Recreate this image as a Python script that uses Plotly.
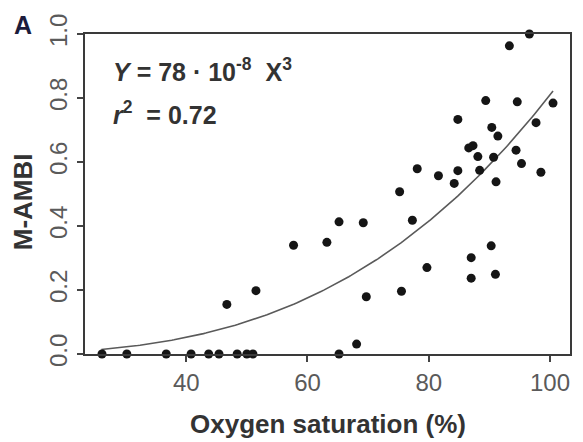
import numpy as np
import plotly.graph_objects as go

# ---- data ----
oxygen_sat = [26.1, 30.2, 36.7, 40.8, 43.7, 45.4, 48.4, 50.0, 51.0, 65.2,
              68.1, 46.7, 51.5, 57.7, 63.2, 65.2, 69.2, 69.7, 75.5, 75.2,
              77.3, 78.1, 79.7, 81.6, 84.2, 84.8, 84.8, 86.6, 87.3, 88.1,
              88.4, 87.0, 87.0, 89.4, 90.3, 90.4, 90.7, 91.0, 91.1, 91.4,
              93.3, 94.4, 94.6, 95.3, 96.6, 97.7, 98.5, 100.5]
m_ambi = [0.0, 0.0, 0.0, 0.0, 0.0, 0.0, 0.0, 0.0, 0.0, 0.0,
          0.031, 0.155, 0.198, 0.340, 0.349, 0.413, 0.410, 0.179, 0.196, 0.507,
          0.418, 0.579, 0.270, 0.557, 0.533, 0.573, 0.733, 0.644, 0.651, 0.617,
          0.574, 0.301, 0.237, 0.792, 0.338, 0.708, 0.615, 0.249, 0.538, 0.681,
          0.963, 0.637, 0.788, 0.595, 1.000, 0.723, 0.568, 0.784]

fit_coef = 81e-8          # coefficient of the drawn cubic curve
fit_x_start, fit_x_end = 26.0, 100.5

x_ticks = [40, 60, 80, 100]
y_ticks = [0.0, 0.2, 0.4, 0.6, 0.8, 1.0]
y_tick_text = ["0.0", "0.2", "0.4", "0.6", "0.8", "1.0"]

FONT = "Liberation Sans, Arial, Helvetica, sans-serif"

fit_x = np.linspace(fit_x_start, fit_x_end, 200)
fit_y = fit_coef * fit_x ** 3

fig = go.Figure()
fig.add_trace(go.Scatter(x=fit_x, y=fit_y, mode="lines",
                         line=dict(color="#5a5a5a", width=1.6),
                         hoverinfo="skip", showlegend=False))
fig.add_trace(go.Scatter(x=oxygen_sat, y=m_ambi, mode="markers",
                         marker=dict(color="#151515", size=9),
                         cliponaxis=False, showlegend=False))

L, R, T, B = 85, 11, 34, 88
W, H = 583, 442
pw, ph = W - L - R, H - T - B

def px(xp):
    return (xp - L) / pw

def py(yp):
    return (H - B - yp) / ph

fig.update_layout(
    width=W, height=H,
    margin=dict(l=L, r=R, t=T, b=B, pad=0),
    paper_bgcolor="white", plot_bgcolor="white",
    font=dict(family=FONT, color="#333333"),
    xaxis=dict(range=[23.3, 103.3], tickvals=x_ticks, ticks="outside",
               ticklen=6, tickwidth=1.5, tickcolor="#444444",
               showline=True, linecolor="#3a3a3a", linewidth=2, mirror=True,
               showgrid=False, zeroline=False,
               tickfont=dict(size=24, color="#5a5a5a", family=FONT)),
    yaxis=dict(range=[0, 1], tickvals=y_ticks, ticktext=y_tick_text,
               ticks="outside", ticklen=6, tickwidth=1.5, tickcolor="#444444",
               tickangle=-90,
               showline=True, linecolor="#3a3a3a", linewidth=2, mirror=True,
               showgrid=False, zeroline=False,
               tickfont=dict(size=24, color="#5a5a5a", family=FONT)),
    annotations=[
        dict(text="<b>Oxygen saturation (%)</b>", x=0.5, y=py(424),
             xref="paper", yref="paper", xanchor="center", yanchor="middle",
             showarrow=False, font=dict(size=26, color="#333333", family=FONT)),
        dict(text="<b>M-AMBI</b>", x=px(23), y=py(202), textangle=-90,
             xref="paper", yref="paper", xanchor="center", yanchor="middle",
             showarrow=False, font=dict(size=26, color="#333333", family=FONT)),
        dict(text="<b>A</b>", x=px(23), y=py(25),
             xref="paper", yref="paper", xanchor="center", yanchor="middle",
             showarrow=False, font=dict(size=25, color="#1c1c3c", family=FONT)),
        dict(text="<b><i>Y</i> = 78 · 10<sup>-8</sup>  X<sup>3</sup></b>",
             x=px(111), y=py(70),
             xref="paper", yref="paper", xanchor="left", yanchor="middle",
             showarrow=False, font=dict(size=25, color="#333333", family=FONT)),
        dict(text="<b><i>r</i><sup>2</sup>  = 0.72</b>",
             x=px(111), y=py(113),
             xref="paper", yref="paper", xanchor="left", yanchor="middle",
             showarrow=False, font=dict(size=25, color="#333333", family=FONT)),
    ],
)

fig.write_html("out.html")
